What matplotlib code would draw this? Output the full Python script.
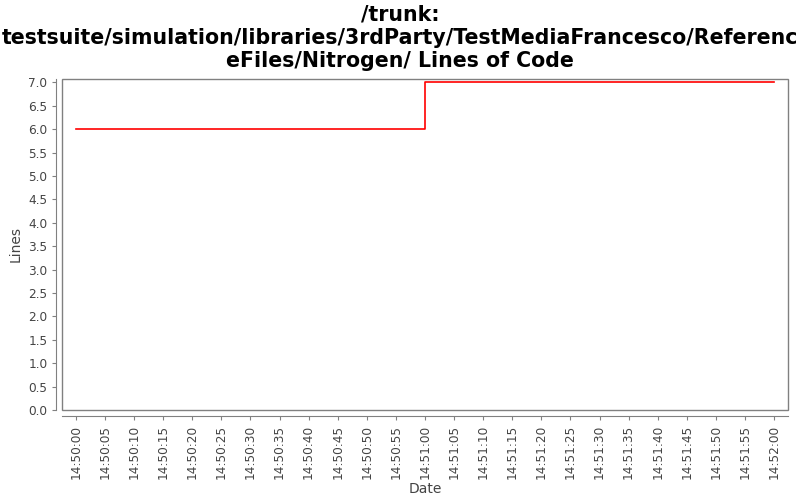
import matplotlib
matplotlib.use("Agg")
import matplotlib.pyplot as plt
import matplotlib.dates as mdates
from matplotlib.patches import Rectangle
from datetime import datetime, timedelta

times = ["14:50:00", "14:51:00", "14:52:00"]
lines = [6.0, 7.0, 7.0]
title = "/trunk:\ntestsuite/simulation/libraries/3rdParty/TestMediaFrancesco/Referenc\neFiles/Nitrogen/ Lines of Code"

base = datetime(2020, 1, 1)
def parse(t):
    h, m, s = map(int, t.split(":"))
    return base.replace(hour=h, minute=m, second=s)
x = [parse(t) for t in times]

fig = plt.figure(figsize=(8, 5), dpi=100)
ax = fig.add_axes([62/800, 1-410/500, (788-62)/800, (410-79)/500])

ax.step(x, lines, where="post", color="#ff0000", linewidth=1.2)

ax.set_ylim(0, 7.07)
ax.set_xlim(x[0] - timedelta(seconds=2.4), x[-1] + timedelta(seconds=2.4))
ax.set_yticks([i * 0.5 for i in range(15)])
ax.yaxis.set_major_formatter(plt.FuncFormatter(lambda v, p: f"{v:.1f}"))
ax.xaxis.set_major_locator(mdates.SecondLocator(bysecond=range(0, 60, 5)))
ax.xaxis.set_major_formatter(mdates.DateFormatter("%H:%M:%S"))

gray = "#808080"
for side in ["top", "right"]:
    ax.spines[side].set_visible(False)
for side in ["left", "bottom"]:
    ax.spines[side].set_position(("outward", 4))
    ax.spines[side].set_color(gray)
ax.add_patch(Rectangle((0, 0), 1, 1, transform=ax.transAxes, fill=False,
                       edgecolor=gray, linewidth=1.0, clip_on=False))
ax.tick_params(axis="both", colors=gray, labelcolor="#444444", labelsize=8.7,
               length=3, width=0.8)
ax.tick_params(axis="x", labelrotation=90)

ax.set_ylabel("Lines", fontsize=10, color="#444444")
ax.set_xlabel("Date", fontsize=10, color="#444444", labelpad=2)

fig.suptitle(title, fontsize=14.8, fontweight="bold", y=0.99, linespacing=1.2)

fig.savefig("out.png", dpi=100)
